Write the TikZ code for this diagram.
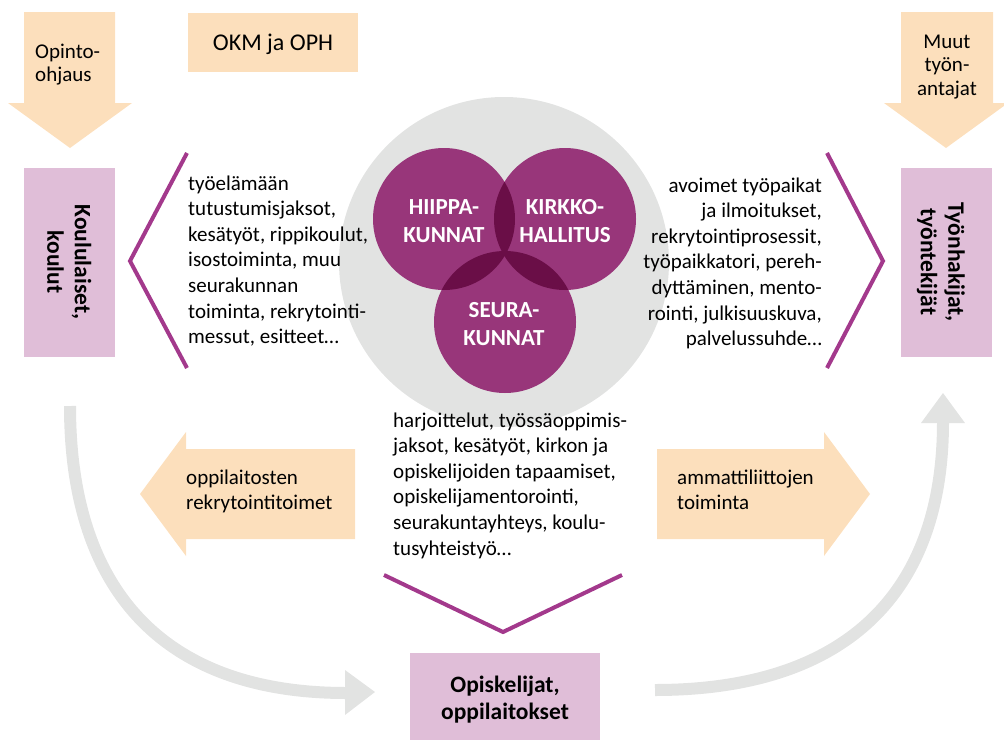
\documentclass[tikz,border=0pt]{standalone}
\usepackage{fontspec}
\setmainfont{Carlito}
\definecolor{peach}{RGB}{252,223,188}
\definecolor{lilac}{RGB}{224,190,216}
\definecolor{mag}{RGB}{163,57,140}
\definecolor{plum}{RGB}{152,54,122}
\definecolor{plumdark}{RGB}{106,14,71}
\definecolor{lgray}{RGB}{226,227,226}
\begin{document}
\begin{tikzpicture}[x=1pt,y=-1pt,
  body/.style={font=\fontsize{21}{25.6}\selectfont, inner sep=0pt},
  toptxt/.style={font=\fontsize{21}{23.5}\selectfont, inner sep=0pt},
  sidetxt/.style={font=\fontsize{21}{25}\selectfont, inner sep=0pt},
  boldtxt/.style={font=\fontsize{23.5}{27.5}\selectfont\bfseries, inner sep=0pt},
  circtxt/.style={font=\fontsize{23}{28}\selectfont\bfseries, text=white, inner sep=0pt},
  chev/.style={draw=mag, line width=4pt, line join=miter},
  cyclearrow/.style={draw=lgray, line width=12pt},
]
\useasboundingbox (0,0) rectangle (1004,739);

% big gray circle
\fill[lgray] (504,262) circle[radius=165pt];

% purple circles
\coordinate (ch) at (444,219);
\coordinate (ck) at (565,219);
\coordinate (cs) at (505,322);
\fill[plum] (ch) circle[radius=71pt];
\fill[plum] (ck) circle[radius=71pt];
\fill[plum] (cs) circle[radius=71pt];
\begin{scope}
  \clip (ch) circle[radius=71pt];
  \fill[plumdark] (ck) circle[radius=71pt];
  \fill[plumdark] (cs) circle[radius=71pt];
\end{scope}
\begin{scope}
  \clip (ck) circle[radius=71pt];
  \fill[plumdark] (cs) circle[radius=71pt];
\end{scope}
\node[circtxt, anchor=base] (hiippa) at (444,214) {\begin{tabular}[t]{@{}c@{}}HIIPPA-\\KUNNAT\end{tabular}};
\node[circtxt, anchor=base] (kirkko) at (565,214) {\begin{tabular}[t]{@{}c@{}}KIRKKO-\\HALLITUS\end{tabular}};
\node[circtxt, anchor=base] (seura) at (504,317) {\begin{tabular}[t]{@{}c@{}}SEURA-\\KUNNAT\end{tabular}};

% top left arrow
\fill[peach] (24,12) -- (115,12) -- (115,103) -- (132,103) -- (70,148) -- (8,103) -- (24,103) -- cycle;
\node[toptxt, anchor=base west] (opinto) at (35,58) {\begin{tabular}[t]{@{}l@{}}Opinto-\\ohjaus\end{tabular}};

% OKM box
\node[fill=peach, minimum width=170pt, minimum height=59pt, inner sep=0pt,
      font=\fontsize{24}{28}\selectfont, text height=15pt, text depth=0pt] (okm) at (273,42.5) {OKM ja OPH};

% top right arrow
\fill[peach] (901,12) -- (993,12) -- (993,103) -- (1008,103) -- (946,148) -- (884,103) -- (901,103) -- cycle;
\node[toptxt, anchor=base] (muut) at (947,48) {\begin{tabular}[t]{@{}c@{}}Muut\\työn-\\antajat\end{tabular}};

% side boxes
\fill[lilac] (24,168) rectangle (115,357);
\node[boldtxt, rotate=-90] (koul) at (66.5,262) {\begin{tabular}{@{}c@{}}Koululaiset,\\koulut\end{tabular}};
\fill[lilac] (901,168) rectangle (992,357);
\node[boldtxt, rotate=-90] (tyon) at (940,262) {\begin{tabular}{@{}c@{}}Työnhakijat,\\työntekijät\end{tabular}};

% chevrons
\draw[chev] (187,153) -- (130,261) -- (187,368);
\draw[chev] (827,153) -- (883,261) -- (827,368);
\draw[chev] (384,575) -- (503,632) -- (622,575);

% text blocks
\node[body, anchor=base west] (lefttxt) at (188,190) {\begin{tabular}[t]{@{}l@{}}työelämään\\tutustumisjaksot,\\kesätyöt, rippikoulut,\\isostoiminta, muu\\seurakunnan\\toiminta, rekrytointi-\\messut, esitteet…\end{tabular}};
\node[body, anchor=base east] (righttxt) at (822,192) {\begin{tabular}[t]{@{}r@{}}avoimet työpaikat\\ja ilmoitukset,\\rekrytointiprosessit,\\työpaikkatori, pereh-\\dyttäminen, mento-\\rointi, julkisuuskuva,\\palvelussuhde…\end{tabular}};
\node[body, anchor=base west] (bottxt) at (393,427) {\begin{tabular}[t]{@{}l@{}}harjoittelut, työssäoppimis-\\jaksot, kesätyöt, kirkon ja\\opiskelijoiden tapaamiset,\\opiskelijamentorointi,\\seurakuntayhteys, koulu-\\tusyhteistyö…\end{tabular}};

% middle peach arrows
\fill[peach] (355,449) -- (186,449) -- (186,432) -- (140,494) -- (186,556) -- (186,539) -- (355,539) -- cycle;
\node[sidetxt, anchor=base west] (oppil) at (186,484) {\begin{tabular}[t]{@{}l@{}}oppilaitosten\\rekrytointitoimet\end{tabular}};
\fill[peach] (657,449) -- (824,449) -- (824,432) -- (870,494) -- (824,556) -- (824,539) -- (657,539) -- cycle;
\node[sidetxt, anchor=base west] (ammat) at (677,484) {\begin{tabular}[t]{@{}l@{}}ammattiliittojen\\toiminta\end{tabular}};

% bottom box
\fill[lilac] (410,653) rectangle (600,745);
\node[boldtxt, anchor=base] (opisk) at (505,692) {\begin{tabular}[t]{@{}c@{}}Opiskelijat,\\oppilaitokset\end{tabular}};

% gray cycle arrows
\coordinate (ls) at (70,406);
\coordinate (le) at (346,693);
\draw[cyclearrow] (ls) .. controls (70,593) and (166,693) .. (le);
\fill[lgray] (345,670) -- (375,692) -- (345,715) -- cycle;
\coordinate (rs) at (655,690);
\coordinate (re) at (943,422);
\draw[cyclearrow] (rs) .. controls (842,690) and (943,597) .. (re);
\fill[lgray] (921,423) -- (943,393) -- (965,423) -- cycle;
\end{tikzpicture}
\end{document}
